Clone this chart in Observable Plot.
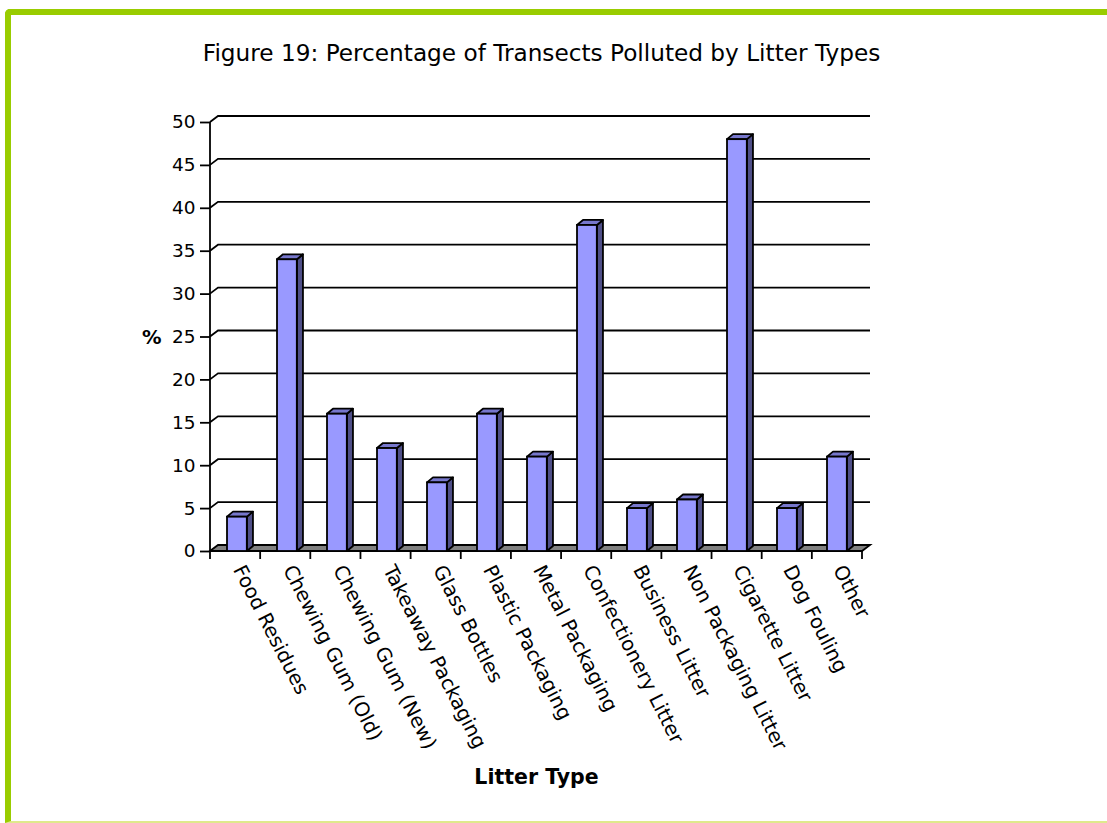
<!DOCTYPE html>
<html>
<head>
<meta charset="utf-8">
<script src="https://cdn.jsdelivr.net/npm/d3@7"></script>
<script src="https://cdn.jsdelivr.net/npm/@observablehq/plot@0.6"></script>
<style>
  html, body { margin: 0; padding: 0; background: #ffffff; overflow: hidden; }
  #frame {
    position: absolute; left: 5px; top: 9px; width: 1200px; height: 806px;
    border-left: 6px solid #99cc00; border-top: 6px solid #99cc00;
    border-bottom: 2px solid #dfe98c; border-top-left-radius: 5px;
  }
  #chart { position: absolute; left: 0; top: 0; }
</style>
</head>
<body>
<div id="frame"></div>
<div id="chart"></div>
<script>
// Litter survey: share of transects where each litter type was found
const categories = [
  "Food Residues", "Chewing Gum (Old)", "Chewing Gum (New)", "Takeaway Packaging",
  "Glass Bottles", "Plastic Packaging", "Metal Packaging", "Confectionery Litter",
  "Business Litter", "Non Packaging Litter", "Cigarette Litter", "Dog Fouling", "Other"
];
const percents = [4, 34, 16, 12, 8, 16, 11, 38, 5, 6, 48, 5, 11];
const yTicks = [0, 5, 10, 15, 20, 25, 30, 35, 40, 45, 50];

const titleText = "Figure 19: Percentage of Transects Polluted by Litter Types";
const xLabel = "Litter Type";
const yLabel = "%";

const rows = categories.map((category, i) => ({category, percent: percents[i]}));

// pseudo-3D styling
const WALL_DEPTH = [8, 6];   // back wall offset (right, up)
const BAR_DEPTH = [6, 5];    // column depth offset (right, up)
const BAR_INSET = [16, 14.2];
const LINE = 1.8;
const FRONT = "#9999ff", SIDE = "#4f4f88", TOP = "#7777cc", FLOOR = "#808080";

// back wall gridlines, floor, value axis line and category boundary ticks
function drawWall(index, scales, values, dims) {
  const left = dims.marginLeft, right = dims.width - dims.marginRight;
  const n = categories.length;
  const [dx, dy] = WALL_DEPTH;
  const y0 = scales.y(0);
  const g = d3.create("svg:g")
    .attr("fill", "none").attr("stroke", "black").attr("stroke-width", LINE);
  for (const t of yTicks.slice(1)) {
    const yy = scales.y(t);
    g.append("path").attr("d", `M${left},${yy}L${left + dx},${yy - dy}H${right + dx}`);
  }
  g.append("path")
    .attr("fill", FLOOR)
    .attr("d", `M${left},${y0}L${left + dx},${y0 - dy}H${right + dx}L${right},${y0}Z`);
  g.append("line")
    .attr("x1", left).attr("x2", left)
    .attr("y1", scales.y(yTicks[yTicks.length - 1])).attr("y2", y0);
  for (let i = 0; i <= n; i++) {
    const xx = left + i * (right - left) / n;
    g.append("line").attr("x1", xx).attr("x2", xx).attr("y1", y0).attr("y2", y0 + 8);
  }
  return g.node();
}

// side and top faces of each column
function drawFaces(index, scales, values, dims) {
  const left = dims.marginLeft, right = dims.width - dims.marginRight;
  const bw = (right - left) / categories.length;
  const [dx, dy] = BAR_DEPTH;
  const g = d3.create("svg:g")
    .attr("stroke", "black").attr("stroke-width", LINE).attr("stroke-linejoin", "round");
  for (const i of index) {
    const d = rows[i];
    const xa = scales.x(d.category) + BAR_INSET[0];
    const xb = scales.x(d.category) + bw - BAR_INSET[1];
    const yt = scales.y(d.percent), yb = scales.y(0);
    g.append("path").attr("fill", SIDE)
      .attr("d", `M${xb},${yt}L${xb + dx},${yt - dy}V${yb - dy}L${xb},${yb}Z`);
    g.append("path").attr("fill", TOP)
      .attr("d", `M${xa},${yt}L${xa + dx},${yt - dy}H${xb + dx}L${xb},${yt}Z`);
  }
  return g.node();
}

const chart = Plot.plot({
  width: 1107,
  height: 823,
  marginLeft: 210,
  marginRight: 245,
  marginTop: 122,
  marginBottom: 272,
  style: {fontFamily: "DejaVu Sans", fontSize: "18px", color: "black", background: "transparent", overflow: "visible"},
  x: {type: "band", domain: categories, padding: 0, axis: null},
  y: {domain: [0, 50]},
  marks: [
    Plot.barY(rows, {x: "category", y: "percent", render: drawWall}),
    Plot.barY(rows, {x: "category", y: "percent", render: drawFaces}),
    Plot.barY(rows, {
      x: "category", y: "percent", fill: FRONT, stroke: "black", strokeWidth: LINE,
      insetLeft: BAR_INSET[0], insetRight: BAR_INSET[1]
    }),
    Plot.axisY({ticks: yTicks, tickSize: 10, tickPadding: 5, fontSize: 18.5, strokeWidth: LINE, label: null}),
    Plot.text(categories, {
      x: d => d, frameAnchor: "bottom", rotate: 63, textAnchor: "start", lineAnchor: "middle",
      dx: 2, dy: 15, fontSize: 19.8, fill: "black"
    }),
    Plot.text([titleText], {frameAnchor: "top", lineAnchor: "bottom", dx: 5, dy: -62, fontSize: 23.2, fill: "black"}),
    Plot.text([xLabel], {frameAnchor: "bottom", lineAnchor: "bottom", dy: 232, fontSize: 20.5, fontWeight: "bold", fill: "black"}),
    Plot.text([yLabel], {frameAnchor: "left", textAnchor: "end", lineAnchor: "bottom", dx: -49, dy: 6.5, fontSize: 19.5, fontWeight: "bold", fill: "black"})
  ]
});

document.getElementById("chart").appendChild(chart);
</script>
</body>
</html>
